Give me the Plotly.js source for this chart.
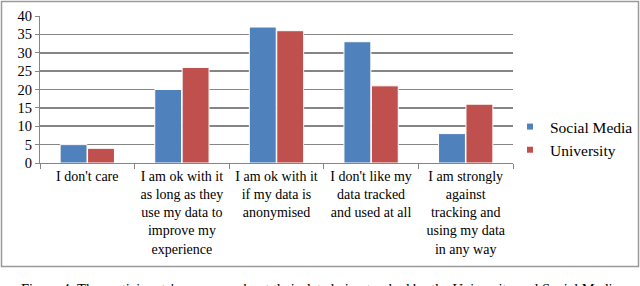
<!DOCTYPE html>
<html>
<head>
<meta charset="utf-8">
<script src="https://cdn.plot.ly/plotly-3.0.1.min.js"></script>
<style>
html,body{margin:0;padding:0;background:#fff;}
#chart{width:640px;height:286px;}
</style>
</head>
<body>
<div id="chart"></div>
<script>
var categories = [
  "I don't care",
  "I am ok with it<br>as long as they<br>use my data to<br>improve my<br>experience",
  "I am ok with it<br>if my data is<br>anonymised",
  "I don't like my<br>data tracked<br>and used at all",
  "I am strongly<br>against<br>tracking and<br>using my data<br>in any way"
];
var socialMedia = [5, 20, 37, 33, 8];
var university = [4, 26, 36, 21, 16];
var seriesNames = ["Social Media", "University"];
var seriesColors = ['#4F81BD', '#C0504D'];
var yTicks = [0, 5, 10, 15, 20, 25, 30, 35, 40];
var caption = "Figure 4: The participants' responses about their data being tracked by the University and Social Media";

var FONT = "'Liberation Serif', 'DejaVu Serif', serif";
var ML = 40, MR = 127, MT = 16, MB = 123, W = 640, H = 286;
var pw = W - ML - MR, ph = H - MT - MB;
function px(x){ return (x - ML) / pw; }
function py(y){ return (H - MB - y) / ph; }

var traces = [
  {type:'bar', x:categories, y:socialMedia, name:seriesNames[0], showlegend:false,
   marker:{color:seriesColors[0], line:{color:'#ffffff', width:1}}},
  {type:'bar', x:categories, y:university, name:seriesNames[1], showlegend:false,
   marker:{color:seriesColors[1], line:{color:'#ffffff', width:1}}},
  {type:'scatter', mode:'markers', x:[null], y:[null], name:seriesNames[0], showlegend:true,
   marker:{symbol:'square', size:6, color:seriesColors[0]}},
  {type:'scatter', mode:'markers', x:[null], y:[null], name:seriesNames[1], showlegend:true,
   marker:{symbol:'square', size:6, color:seriesColors[1]}}
];

var layout = {
  width: W, height: H,
  margin: {l: ML, r: MR, t: MT, b: MB, pad: 0, autoexpand: false},
  paper_bgcolor: '#ffffff', plot_bgcolor: '#ffffff',
  barmode: 'group', bargap: 0.42, bargroupgap: 0.02,
  font: {family: FONT, size: 14, color: '#000'},
  showlegend: true,
  legend: {xref: 'container', yref: 'container', x: 510 / W, y: 1 - 110 / H,
           xanchor: 'left', yanchor: 'top',
           font: {family: FONT, size: 15.5, color: '#000'},
           itemwidth: 30, tracegroupgap: 2, bgcolor: 'rgba(0,0,0,0)'},
  xaxis: {type: 'category', showgrid: false, showline: true, linecolor: '#868686', linewidth: 1,
          ticks: 'outside', tickson: 'boundaries', ticklen: 5, tickcolor: '#868686',
          tickangle: 0,
          tickfont: {family: FONT, size: 14, color: '#000'}, automargin: false, fixedrange: true},
  yaxis: {range: [0, 40], tickvals: yTicks, ticktext: yTicks.map(String),
          showgrid: true, gridcolor: '#858585', gridwidth: 1.6, zeroline: false,
          showline: true, linecolor: '#868686', linewidth: 1,
          ticks: 'outside', ticklen: 4, tickcolor: '#868686',
          tickfont: {family: FONT, size: 14.5, color: '#000'}, automargin: false, fixedrange: true},
  shapes: [
    {type: 'rect', xref: 'paper', yref: 'paper',
     x0: px(1.5), x1: px(638.5), y0: py(266.5), y1: py(1.5),
     line: {color: '#9a9a9a', width: 1.5}, fillcolor: 'rgba(0,0,0,0)', layer: 'below'}
  ],
  annotations: [
    {text: caption, xref: 'paper', yref: 'paper', x: px(320), y: py(279),
     xanchor: 'center', yanchor: 'top', showarrow: false,
     font: {family: FONT, size: 14.5, color: '#000'}}
  ]
};

Plotly.newPlot('chart', traces, layout, {displayModeBar: false, staticPlot: true});
</script>
</body>
</html>
